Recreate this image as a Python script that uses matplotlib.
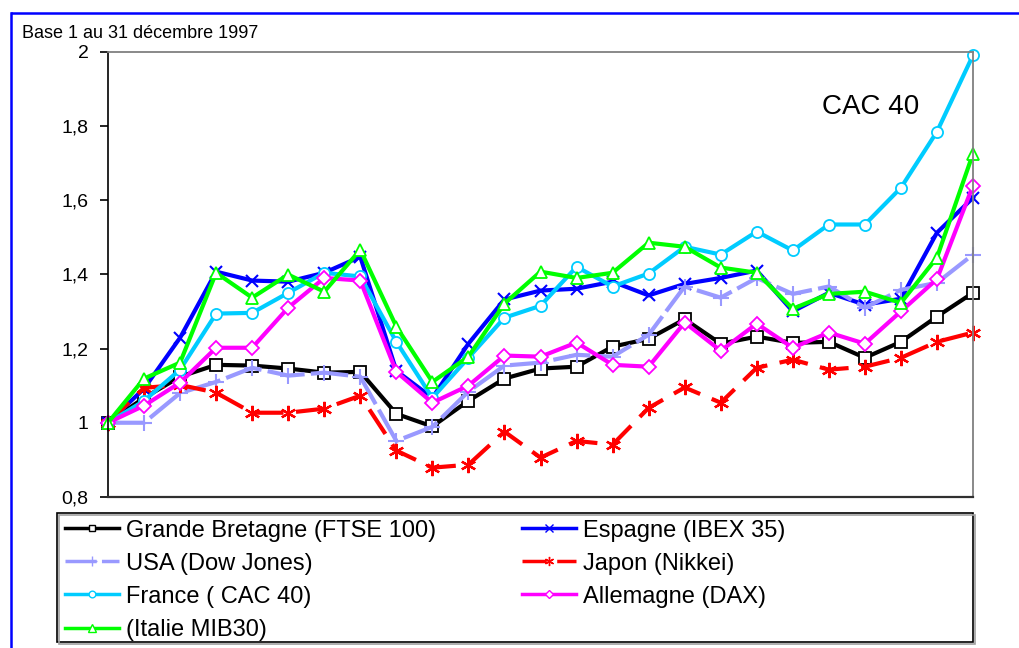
import matplotlib
matplotlib.use("Agg")
import matplotlib.pyplot as plt
from matplotlib.lines import Line2D
from matplotlib.patches import Rectangle

plt.rcParams['font.family'] = ['Liberation Sans', 'DejaVu Sans']

# ---- data (base 1 at 31 Dec 1997), 25 observations ----
periods = list(range(25))
gb = [1.00, 1.067, 1.124, 1.156, 1.154, 1.146, 1.135, 1.137, 1.024, 0.99,
      1.059, 1.119, 1.146, 1.151, 1.205, 1.226, 1.279, 1.213, 1.232, 1.215,
      1.218, 1.175, 1.218, 1.286, 1.350]
espagne = [1.00, 1.092, 1.229, 1.407, 1.383, 1.380, 1.404, 1.447, 1.140, 1.067,
           1.213, 1.332, 1.356, 1.361, 1.380, 1.343, 1.374, 1.390, 1.410, 1.300,
           1.350, 1.318, 1.334, 1.512, 1.606]
usa = [1.00, 1.00, 1.080, 1.110, 1.148, 1.127, 1.135, 1.124, 0.951, 0.989,
       1.084, 1.154, 1.162, 1.183, 1.178, 1.237, 1.367, 1.337, 1.390, 1.347,
       1.367, 1.310, 1.358, 1.377, 1.453]
japon = [1.00, 1.094, 1.102, 1.081, 1.027, 1.027, 1.038, 1.073, 0.925, 0.879,
         0.887, 0.976, 0.906, 0.951, 0.941, 1.040, 1.095, 1.054, 1.148, 1.170,
         1.143, 1.151, 1.175, 1.218, 1.243]
france = [1.00, 1.059, 1.143, 1.294, 1.296, 1.350, 1.404, 1.394, 1.218, 1.067,
          1.175, 1.283, 1.315, 1.420, 1.367, 1.402, 1.474, 1.453, 1.515, 1.464,
          1.534, 1.534, 1.633, 1.784, 1.990]
allemagne = [1.00, 1.046, 1.108, 1.202, 1.202, 1.310, 1.390, 1.383, 1.137, 1.054,
             1.100, 1.181, 1.178, 1.216, 1.156, 1.151, 1.270, 1.194, 1.267, 1.202,
             1.243, 1.213, 1.300, 1.387, 1.639]
italie = [1.00, 1.119, 1.162, 1.404, 1.337, 1.399, 1.353, 1.466, 1.259, 1.110,
          1.178, 1.321, 1.407, 1.390, 1.404, 1.485, 1.474, 1.418, 1.404, 1.307,
          1.347, 1.353, 1.323, 1.445, 1.725]

labels = ["Grande Bretagne (FTSE 100)", "Espagne (IBEX 35)", "USA (Dow Jones)",
          "Japon (Nikkei)", "France ( CAC 40)", "Allemagne (DAX)", "(Italie MIB30)"]
yticks = [0.8, 1.0, 1.2, 1.4, 1.6, 1.8, 2.0]
yticklabels = ["0,8", "1", "1,2", "1,4", "1,6", "1,8", "2"]

W, H = 1019, 648
fig = plt.figure(figsize=(W / 100, H / 100), dpi=100)
ax = fig.add_axes([108 / W, 1 - 497 / H, (973 - 108) / W, (497 - 51.5) / H])

LW = 3.0
styles = [
    dict(color='black', marker='s', mfc='white', mec='black', ms=8, mew=1.3, ls='-'),
    dict(color='#0000FF', marker='x', mec='#0000FF', ms=9, mew=1.5, ls='-'),
    dict(color='#9999FF', marker='+', mec='#9999FF', ms=11, mew=1.5, ls=(0, (9, 1.5))),
    dict(color='#FF0000', marker=(6, 2, 0), mec='#FF0000', ms=11, mew=1.6, ls=(0, (7, 3))),
    dict(color='#00CCFF', marker='o', mfc='white', mec='#00CCFF', ms=8, mew=1.3, ls='-'),
    dict(color='#FF00FF', marker='D', mfc='white', mec='#FF00FF', ms=7, mew=1.3, ls='-'),
    dict(color='#00FF00', marker='^', mfc='white', mec='#00FF00', ms=9, mew=1.3, ls='-'),
]
series = [gb, espagne, usa, japon, france, allemagne, italie]
for vals, st in zip(series, styles):
    ax.plot(periods, vals, lw=LW, clip_on=False, **st)

ax.set_xlim(0, 24)
ax.set_ylim(0.8, 2.0)
ax.set_xticks([])
ax.set_yticks(yticks)
ax.set_yticklabels(yticklabels)
ax.tick_params(axis='y', direction='out', length=6, width=1.2, pad=8,
               labelsize=14, colors='black')
ax.spines['top'].set_color('#808080')
ax.spines['right'].set_color('#808080')
ax.spines['top'].set_linewidth(1.3)
ax.spines['right'].set_linewidth(1.3)
ax.spines['bottom'].set_color('#303030')
ax.spines['bottom'].set_linewidth(1.6)
ax.spines['left'].set_color('black')
ax.spines['left'].set_linewidth(1.2)

fig.text(822 / W, 1 - 107 / H, "CAC 40", fontsize=20, ha='left', va='center',
         color='black')
fig.text(22 / W, 1 - 33 / H, "Base 1 au 31 décembre 1997", fontsize=13,
         ha='left', va='center', color='black')

# blue outer frame
fig.add_artist(Line2D([12 / W, 1.0], [1 - 12.5 / H, 1 - 12.5 / H],
                      transform=fig.transFigure, color='#0000FF', lw=1.8))
fig.add_artist(Line2D([11 / W, 11 / W], [0, 1 - 12.5 / H],
                      transform=fig.transFigure, color='#0000FF', lw=1.8))

# legend
handles = []
for st in styles:
    hs = dict(st)
    hs['ms'] = max(4, st['ms'] * 0.6)
    hs['mew'] = 1.0
    handles.append(Line2D([], [], lw=2.5, **hs))

col1 = [0, 2, 4, 6]
col2 = [1, 3, 5]
common = dict(loc='upper left', frameon=False, fontsize=17, handlelength=2.3,
              handletextpad=0.3, labelspacing=0.47, borderpad=0, borderaxespad=0)
leg1 = fig.legend([handles[i] for i in col1], [labels[i] for i in col1],
                  bbox_to_anchor=(65 / W, 1 - 519.5 / H), **common)
leg2 = fig.legend([handles[i] for i in col2], [labels[i] for i in col2],
                  bbox_to_anchor=(522 / W, 1 - 519.5 / H), **common)

fig.add_artist(Rectangle((59 / W, 1 - 644 / H), (975 - 59) / W, (644 - 515) / H,
                         transform=fig.transFigure, fill=False,
                         edgecolor='#A0A0A0', lw=1.2))
fig.add_artist(Rectangle((57 / W, 1 - 642 / H), (973 - 57) / W, (642 - 513) / H,
                         transform=fig.transFigure, fill=True, facecolor='white',
                         edgecolor='black', lw=1.2, zorder=0.5))

fig.savefig("out.png", dpi=100)
